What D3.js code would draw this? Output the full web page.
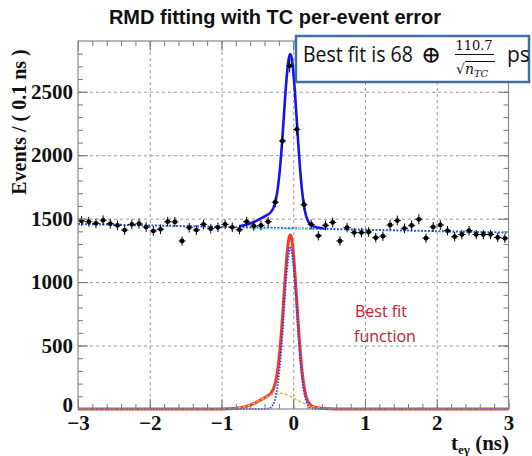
<!DOCTYPE html>
<html>
<head>
<meta charset="utf-8">
<script src="https://cdn.jsdelivr.net/npm/d3@7"></script>
<style>
  body { margin: 0; background: #fff; }
</style>
</head>
<body>
<div id="chart"></div>
<script>
// histogram: 60 bins of 0.1 ns from -3 to 3
const xMin = -3, binWidth = 0.1;
const counts = [
  1482, 1476, 1463, 1487, 1460, 1447, 1410, 1455, 1460, 1434,
  1403, 1416, 1476, 1474, 1324, 1429, 1410, 1455, 1421, 1432,
  1455, 1432, 1413, 1476, 1442, 1447, 1476, 1630, 2112, 2704,
  2204, 1610, 1455, 1365, 1447, 1470, 1324, 1429, 1390, 1390,
  1395, 1350, 1362, 1450, 1485, 1424, 1447, 1495, 1346, 1435,
  1450, 1405, 1358, 1375, 1405, 1375, 1375, 1375, 1352, 1345
];
// fitted components
const bgEnds = [[-3, 1458], [3, 1390]];
const cyanSeg = [[-0.6, 1420], [0.3, 1420]];
const gaussMean = [-0.04, -0.2];
const gaussSigma = [0.09, 0.24];
const gaussAmp = [1270, 125];

const xTicks = [-3, -2, -1, 0, 1, 2, 3];
const yTicks = [0, 500, 1000, 1500, 2000, 2500];

const W = 532, H = 456;
const m = { left: 78, right: 23.5, top: 41, bottom: 47 };
const iw = W - m.left - m.right, ih = H - m.top - m.bottom;

const svg = d3.select('#chart').append('svg')
  .attr('width', W).attr('height', H)
  .style('font-family', 'Liberation Serif, serif');

const x = d3.scaleLinear().domain([-3, 3]).range([0, iw]);
const y = d3.scaleLinear().domain([0, 2900]).range([ih, 0]);

const g = svg.append('g').attr('transform', `translate(${m.left},${m.top})`);

// grid
g.append('g').attr('transform', `translate(0,${ih})`)
  .call(d3.axisBottom(x).tickValues(xTicks.slice(1, -1)).tickSize(-ih).tickFormat(''))
  .call(s => s.select('.domain').remove())
  .selectAll('line').attr('stroke', '#999').attr('stroke-dasharray', '3,3');
g.append('g')
  .call(d3.axisLeft(y).tickValues(yTicks.slice(1)).tickSize(-iw).tickFormat(''))
  .call(s => s.select('.domain').remove())
  .selectAll('line').attr('stroke', '#999').attr('stroke-dasharray', '3,3');

// model curves
const ts = d3.range(-3, 3.0001, 0.005);
const gauss = (t, k) => gaussAmp[k] * Math.exp(-((t - gaussMean[k]) ** 2) / (2 * gaussSigma[k] ** 2));
const bg = t => bgEnds[0][1] + (bgEnds[1][1] - bgEnds[0][1]) * (t - bgEnds[0][0]) / (bgEnds[1][0] - bgEnds[0][0]);
const line = d3.line().x(d => x(d[0])).y(d => y(d[1]));

g.append('path').datum(ts.map(t => [t, gauss(t, 0) + gauss(t, 1)]))
  .attr('d', line).attr('fill', 'none').attr('stroke', '#f23a2a').attr('stroke-width', 3);
g.append('path').datum(ts.map(t => [t, gauss(t, 1)]))
  .attr('d', line).attr('fill', 'none').attr('stroke', '#f4b240').attr('stroke-width', 1.5)
  .attr('stroke-dasharray', '3,2');
g.append('path').datum(ts.map(t => [t, gauss(t, 0)]))
  .attr('d', line).attr('fill', 'none').attr('stroke', '#2f3cff').attr('stroke-width', 2)
  .attr('stroke-dasharray', '1.5,1.5');

g.append('path').datum(bgEnds)
  .attr('d', line).attr('fill', 'none').attr('stroke', '#2b55f5').attr('stroke-width', 2)
  .attr('stroke-dasharray', '2,1.5');
g.append('path').datum(cyanSeg)
  .attr('d', line).attr('fill', 'none').attr('stroke', '#66e4f4').attr('stroke-width', 1.5)
  .attr('stroke-dasharray', '2,2');

g.append('path').datum(ts.filter(t => t > -0.75 && t < 0.42).map(t => [t, bg(t) + gauss(t, 0) + gauss(t, 1)]))
  .attr('d', line).attr('fill', 'none').attr('stroke', '#1414ee').attr('stroke-width', 2.6);

// data points
const half = (x(xMin + binWidth) - x(xMin)) / 2;
const pts = g.append('g').selectAll('g').data(counts).join('g')
  .attr('transform', (d, i) => `translate(${x(xMin + binWidth * (i + 0.5))},${y(d)})`);
pts.append('line').attr('x1', -half).attr('x2', half).attr('stroke', '#000');
pts.append('line')
  .attr('y1', d => y(d - Math.sqrt(d)) - y(d)).attr('y2', d => y(d + Math.sqrt(d)) - y(d))
  .attr('stroke', '#000');
pts.append('circle').attr('r', 2.4).attr('fill', '#000');

// frame and ticks (ROOT style, inside)
const tickCol = '#777';
const xMinor = d3.range(-3, 3.0001, 0.2);
const yMinor = d3.range(0, 2900, 100);
const ax = (axis) => s => s.call(axis).call(q => q.select('.domain').remove())
  .call(q => q.selectAll('line').attr('stroke', tickCol));
g.append('g').attr('transform', `translate(0,${ih})`).call(ax(d3.axisBottom(x).tickValues(xMinor).tickSize(-5).tickFormat('')));
g.append('g').call(ax(d3.axisTop(x).tickValues(xMinor).tickSize(-5).tickFormat('')));
g.append('g').call(ax(d3.axisLeft(y).tickValues(yMinor).tickSize(-5).tickFormat('')));
g.append('g').attr('transform', `translate(${iw},0)`).call(ax(d3.axisRight(y).tickValues(yMinor).tickSize(-5).tickFormat('')));
g.append('g').call(ax(d3.axisTop(x).tickValues(xTicks).tickSize(-10).tickFormat('')));
g.append('g').attr('transform', `translate(${iw},0)`).call(ax(d3.axisRight(y).tickValues(yTicks).tickSize(-10).tickFormat('')));

const xAxis = g.append('g').attr('transform', `translate(0,${ih})`)
  .call(ax(d3.axisBottom(x).tickValues(xTicks).tickSize(-10).tickPadding(8).tickFormat(d3.format('d'))));
xAxis.selectAll('text').attr('font-size', 21).attr('font-weight', 'bold')
  .attr('font-family', 'Liberation Serif, serif').attr('fill', '#111').attr('dy', '0.6em');
const yAxis = g.append('g')
  .call(ax(d3.axisLeft(y).tickValues(yTicks).tickSize(-10).tickPadding(5).tickFormat(d3.format('d'))));
yAxis.selectAll('text').attr('font-size', 21).attr('font-weight', 'bold')
  .attr('font-family', 'Liberation Serif, serif').attr('fill', '#111');
yAxis.selectAll('.tick').filter(d => d === 0).select('text').attr('dy', '0.1em');

g.append('rect').attr('width', iw).attr('height', ih)
  .attr('fill', 'none').attr('stroke', '#888').attr('stroke-width', 1.2);

// titles
svg.append('text').attr('x', 275).attr('y', 24).attr('text-anchor', 'middle')
  .attr('font-family', 'Liberation Sans, Arial, sans-serif').attr('font-weight', 'bold')
  .attr('font-size', 20).attr('fill', '#111').text('RMD fitting with TC per-event error');

svg.append('text').attr('transform', 'translate(26,122) rotate(-90)').attr('text-anchor', 'middle')
  .attr('font-weight', 'bold').attr('font-size', 20).attr('fill', '#111')
  .text('Events / ( 0.1 ns )');

const xt = svg.append('text').attr('x', 509).attr('y', 450).attr('text-anchor', 'end')
  .attr('font-weight', 'bold').attr('font-size', 21).attr('fill', '#111');
xt.append('tspan').text('t');
xt.append('tspan').attr('font-size', 13).attr('dy', 4).text('eγ');
xt.append('tspan').attr('dy', -4).text(' (ns)');

// annotation
svg.append('text').attr('x', 355).attr('y', 317).attr('font-family', 'Open Sans, sans-serif')
  .attr('font-size', 16).attr('fill', '#c0202a').text('Best fit');
svg.append('text').attr('x', 354).attr('y', 342).attr('font-family', 'Open Sans, sans-serif')
  .attr('font-size', 16).attr('fill', '#c0202a').text('function');

// result box
const box = svg.append('g');
box.append('rect').attr('x', 296).attr('y', 36).attr('width', 233).attr('height', 46)
  .attr('fill', '#fff').attr('stroke', '#3f6fa8').attr('stroke-width', 2.5);
const fitTxt = box.append('text').attr('font-family', 'Open Sans, sans-serif')
  .attr('font-size', 21).attr('fill', '#111').text('Best fit is 68');
const fw = fitTxt.node().getComputedTextLength();
fitTxt.attr('transform', `translate(303,62) scale(${110 / fw},1)`);
box.append('text').attr('x', 431).attr('y', 63).attr('text-anchor', 'middle')
  .attr('font-family', 'DejaVu Serif, serif').attr('font-size', 24).attr('fill', '#111').text('⊕');
box.append('text').attr('x', 474).attr('y', 50).attr('text-anchor', 'middle')
  .attr('font-family', 'DejaVu Serif, serif').attr('font-size', 13).attr('fill', '#111').text('110.7');
box.append('line').attr('x1', 455).attr('x2', 494).attr('y1', 54.5).attr('y2', 54.5)
  .attr('stroke', '#111').attr('stroke-width', 1);
const den = box.append('text').attr('x', 456).attr('y', 74)
  .attr('font-family', 'DejaVu Serif, serif').attr('font-size', 14).attr('fill', '#111');
den.append('tspan').text('√');
den.append('tspan').attr('font-style', 'italic').text('n');
den.append('tspan').attr('font-style', 'italic').attr('font-size', 10).attr('dy', 3).text('TC');
box.append('line').attr('x1', 465).attr('x2', 495).attr('y1', 61.5).attr('y2', 61.5)
  .attr('stroke', '#111').attr('stroke-width', 1);
box.append('text').attr('x', 507).attr('y', 62).attr('font-family', 'Open Sans, sans-serif')
  .attr('font-size', 21).attr('fill', '#111').text('ps');
</script>
</body>
</html>
